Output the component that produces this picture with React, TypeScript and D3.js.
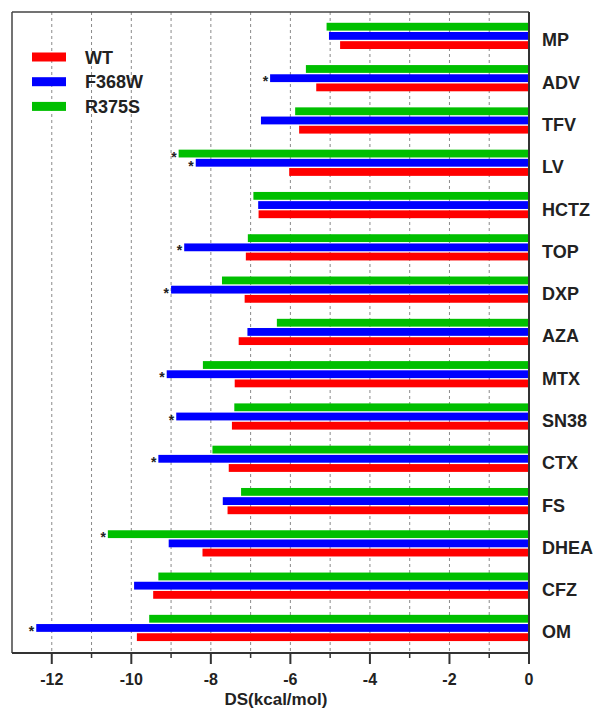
import React from "react";
import * as d3 from "d3";

const categories = ["MP", "ADV", "TFV", "LV", "HCTZ", "TOP", "DXP", "AZA", "MTX", "SN38", "CTX", "FS", "DHEA", "CFZ", "OM"];
const wtValues = [-4.75, -5.35, -5.78, -6.03, -6.8, -7.12, -7.15, -7.3, -7.4, -7.47, -7.55, -7.58, -8.21, -9.45, -9.86];
const f368wValues = [-5.03, -6.51, -6.74, -8.38, -6.81, -8.67, -9.0, -7.08, -9.11, -8.87, -9.32, -7.7, -9.06, -9.93, -12.39];
const r375sValues = [-5.09, -5.61, -5.88, -8.81, -6.93, -7.07, -7.72, -6.34, -8.2, -7.41, -7.96, -7.24, -10.59, -9.32, -9.55];
const sigF368W = ["ADV", "LV", "TOP", "DXP", "MTX", "SN38", "CTX", "OM"];
const sigR375S = ["LV", "DHEA"];
const seriesNames = ["WT", "F368W", "R375S"];
const seriesColors = ["#ff0000", "#0000ff", "#00bf00"];
const majorTicks = [-12, -10, -8, -6, -4, -2, 0];
const minorTicks = [-11, -9, -7, -5, -3, -1];
const gridTicks = [-12, -11, -10, -9, -8, -7, -6, -5, -4, -3, -2, -1];
const axisTitle = "DS(kcal/mol)";

const FONT = "'Liberation Sans', Arial, Helvetica, sans-serif";

export default function App() {
  const W = 595, H = 711;
  const left = 12, right = 529, top = 12, bottom = 653;
  const x = d3.scaleLinear().domain([-13, 0]).range([left, right]);
  const y = d3.scaleBand().domain(categories).range([14.75, 14.75 + 15 * 42.29]).paddingInner(0.38).paddingOuter(0.19);
  // order within group: green top, blue middle, red bottom
  const sub = d3.scaleBand().domain(["R375S", "F368W", "WT"]).range([0, y.bandwidth()]).paddingInner(0.15);

  const series = [
    { name: "WT", values: wtValues, color: seriesColors[0], sig: [] as string[] },
    { name: "F368W", values: f368wValues, color: seriesColors[1], sig: sigF368W },
    { name: "R375S", values: r375sValues, color: seriesColors[2], sig: sigR375S },
  ];

  return (
    <svg width={W} height={H} style={{ position: "absolute", left: 0, top: 0, background: "#fff" }} fontFamily={FONT}>
      <rect x={0} y={0} width={W} height={H} fill="#fff" />
      {/* grid */}
      {gridTicks.map((t) => (
        <line key={"g" + t} x1={x(t)} x2={x(t)} y1={top} y2={bottom} stroke="#8a8a8a" strokeWidth={1} strokeDasharray="3,3" />
      ))}
      {/* bars */}
      {series.map((s) =>
        categories.map((c, i) => {
          const v = s.values[i];
          const by = (y(c) as number) + (sub(s.name) as number);
          return (
            <rect key={s.name + c} x={x(v)} y={by} width={x(0) - x(v)} height={sub.bandwidth()} fill={s.color} />
          );
        })
      )}
      {/* asterisks */}
      {series.map((s) =>
        categories.map((c, i) => {
          if (!s.sig.includes(c)) return null;
          const v = s.values[i];
          const cy = (y(c) as number) + (sub(s.name) as number) + sub.bandwidth() / 2;
          return (
            <text key={"s" + s.name + c} x={x(v) - 2} y={cy + 8} fontSize={14} fontWeight="bold" textAnchor="end" fill="#222">
              *
            </text>
          );
        })
      )}
      {/* frame */}
      <line x1={left} x2={right} y1={top} y2={top} stroke="#444" strokeWidth={1.5} />
      <line x1={left} x2={left} y1={top} y2={bottom} stroke="#444" strokeWidth={1.5} />
      <line x1={right} x2={right} y1={top} y2={bottom + 1} stroke="#333" strokeWidth={2} />
      <line x1={left} x2={right + 1} y1={bottom} y2={bottom} stroke="#333" strokeWidth={2} />
      {/* ticks */}
      {majorTicks.map((t) => (
        <g key={"t" + t}>
          <line x1={x(t)} x2={x(t)} y1={bottom} y2={bottom + 11} stroke="#333" strokeWidth={2} />
          <text x={x(t)} y={685} fontSize={16} fontWeight="bold" textAnchor="middle" fill="#222">
            {t}
          </text>
        </g>
      ))}
      {minorTicks.map((t) => (
        <line key={"m" + t} x1={x(t)} x2={x(t)} y1={bottom} y2={bottom + 5} stroke="#333" strokeWidth={1.5} />
      ))}
      <text x={276} y={705} fontSize={17} fontWeight="bold" textAnchor="middle" fill="#222">
        {axisTitle}
      </text>
      {/* category labels */}
      {categories.map((c) => (
        <text key={"c" + c} x={542} y={(y(c) as number) + y.bandwidth() / 2 + 10.5} fontSize={18} fontWeight="bold" fill="#222">
          {c}
        </text>
      ))}
      {/* legend */}
      {seriesNames.map((n, i) => (
        <g key={"l" + n} transform={`translate(0, ${57 + i * 24.7})`}>
          <rect x={32} y={-4.5} width={34} height={9} fill={seriesColors[i]} />
          <text x={85} y={6.5} fontSize={18} fontWeight="bold" fill="#222">
            {n}
          </text>
        </g>
      ))}
    </svg>
  );
}
